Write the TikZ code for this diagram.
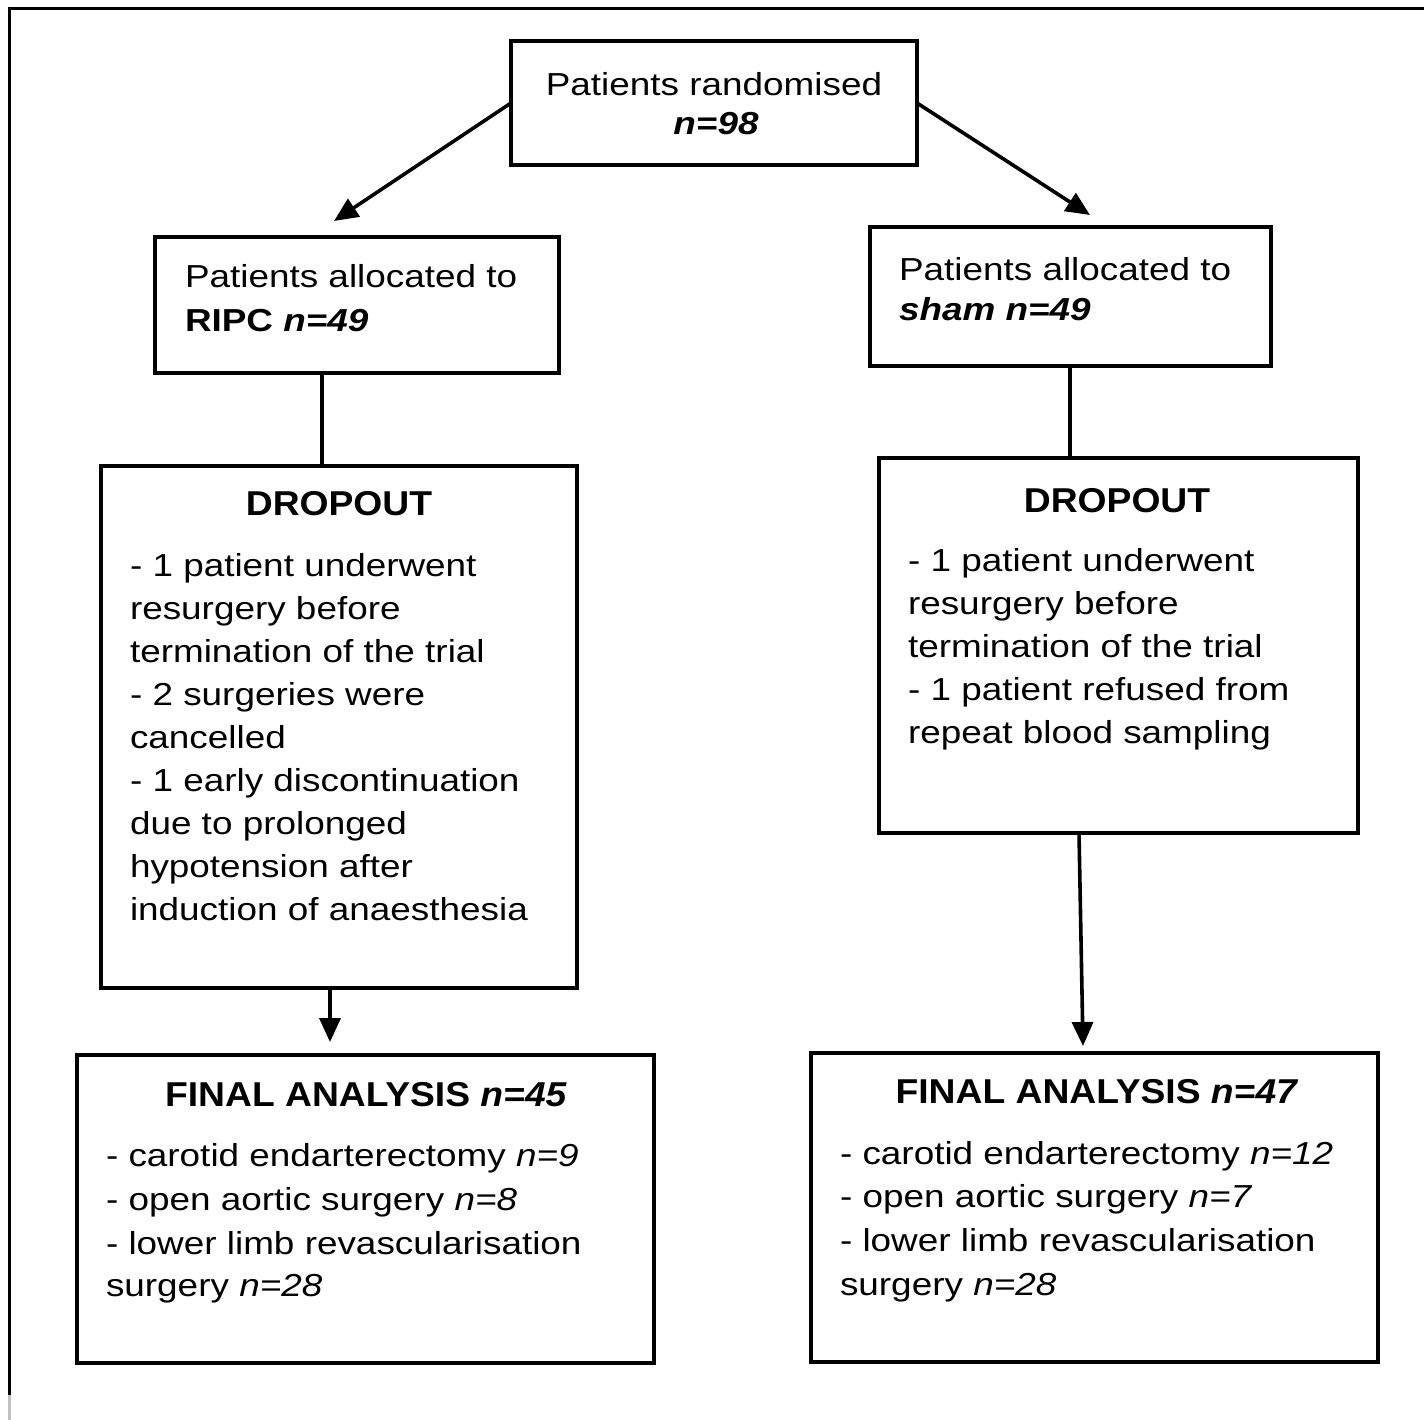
\documentclass[tikz,border=0pt]{standalone}
\usepackage{fontspec}
\setmainfont{Liberation Sans}[FakeStretch=1.16]
\newfontfamily\headfam{Liberation Sans}[FakeStretch=1.08]
\usetikzlibrary{arrows.meta}
\newcommand\bodyfnt{\fontsize{31.8}{43}\selectfont}
\newcommand\headfnt{\headfam\bfseries\fontsize{34.5}{40}\selectfont}
\begin{document}
\begin{tikzpicture}[x=1pt,y=-1pt,
  box/.style={draw, line width=4.2pt, inner sep=0pt, outer sep=0pt},
  txt/.style={inner sep=0pt, outer sep=0pt, anchor=base west, font=\bodyfnt},
  ctxt/.style={inner sep=0pt, outer sep=0pt, anchor=base, font=\bodyfnt},
  head/.style={inner sep=0pt, outer sep=0pt, anchor=base, font=\headfnt},
  arr/.style={line width=3.6pt, -{Triangle[length=24pt,width=21pt]}},
  con/.style={line width=3.6pt}]
\useasboundingbox (0,0) rectangle (1424,1420);
% outer frame (top and left only)
\draw[line width=3pt] (1424,9) -- (9,9) -- (9,1395);
\draw[line width=3pt, black!25] (9,1395) -- (9,1420);

% boxes
\node[box, minimum width=406pt, minimum height=124pt] (top) at (714,103) {};
\node[box, minimum width=404pt, minimum height=136pt] (allocL) at (357,305) {};
\node[box, minimum width=401pt, minimum height=139pt] (allocR) at (1070.5,296.5) {};
\node[box, minimum width=476pt, minimum height=522pt] (dropL) at (339,727) {};
\node[box, minimum width=479pt, minimum height=375pt] (dropR) at (1118.5,645.5) {};
\node[box, minimum width=577pt, minimum height=308pt] (finL) at (365.5,1209) {};
\node[box, minimum width=567pt, minimum height=309pt] (finR) at (1094.5,1207.5) {};

% top box text
\node[ctxt] (t1) at (714,96) {Patients\ randomised};
\node[ctxt] (t2) at (716,135) {\textbf{\textit{n=98}}};

% allocation texts
\node[txt] (aL1) at (185,288) {Patients\ allocated to};
\node[txt] (aL2) at (185,332) {\textbf{RIPC \textit{n=49}}};
\node[txt] (aR1) at (899,281) {Patients\ allocated to};
\node[txt] (aR2) at (899,321) {\textbf{\textit{sham n=49}}};

% dropout left
\node[head] (dLh) at (339,515) {DROPOUT};
\node[txt] (dL1) at (130,576) {- 1 patient underwent};
\node[txt] (dL2) at (130,619) {resurgery before};
\node[txt] (dL3) at (130,662) {termination of the trial};
\node[txt] (dL4) at (130,705) {- 2 surgeries were};
\node[txt] (dL5) at (130,748) {cancelled};
\node[txt] (dL6) at (130,791) {- 1 early discontinuation};
\node[txt] (dL7) at (130,834) {due to prolonged};
\node[txt] (dL8) at (130,877) {hypotension after};
\node[txt] (dL9) at (130,920) {induction of anaesthesia};

% dropout right
\node[head] (dRh) at (1117,512) {DROPOUT};
\node[txt] (dR1) at (908,571) {- 1 patient underwent};
\node[txt] (dR2) at (908,614) {resurgery before};
\node[txt] (dR3) at (908,657) {termination of the trial};
\node[txt] (dR4) at (908,700) {- 1 patient refused from};
\node[txt] (dR5) at (908,743) {repeat blood\ sampling};

% final left
\node[head] (fLh) at (366,1106) {FINAL ANALYSIS \textit{n=45}};
\node[txt] (fL1) at (106,1166) {- carotid endarterectomy \textit{n=9}};
\node[txt] (fL2) at (106,1210) {- open aortic surgery \textit{n=8}};
\node[txt] (fL3) at (106,1254) {- lower limb revascularisation};
\node[txt] (fL4) at (106,1296) {surgery \textit{n=28}};

% final right
\node[head] (fRh) at (1097,1103) {FINAL ANALYSIS \textit{n=47}};
\node[txt] (fR1) at (840,1164) {- carotid endarterectomy \textit{n=12}};
\node[txt] (fR2) at (840,1207) {- open aortic surgery \textit{n=7}};
\node[txt] (fR3) at (840,1251) {- lower limb revascularisation};
\node[txt] (fR4) at (840,1295) {surgery \textit{n=28}};

% connectors
\coordinate (tipL) at (334,221);
\coordinate (tipR) at (1090,215);
\draw[arr] (top.west) -- (tipL);
\draw[arr] (top.east) -- (tipR);
\coordinate (xL) at (322,0);
\coordinate (xR) at (1070,0);
\draw[con] (allocL.south -| xL) -- (dropL.north -| xL);
\draw[con] (allocR.south -| xR) -- (dropR.north -| xR);
\coordinate (xL2) at (330,0);
\coordinate (endL) at (330,1042);
\draw[arr] (dropL.south -| xL2) -- (endL);
\coordinate (xR2) at (1079,0);
\coordinate (endR) at (1083,1046);
\draw[arr] (dropR.south -| xR2) -- (endR);
\end{tikzpicture}
\end{document}
